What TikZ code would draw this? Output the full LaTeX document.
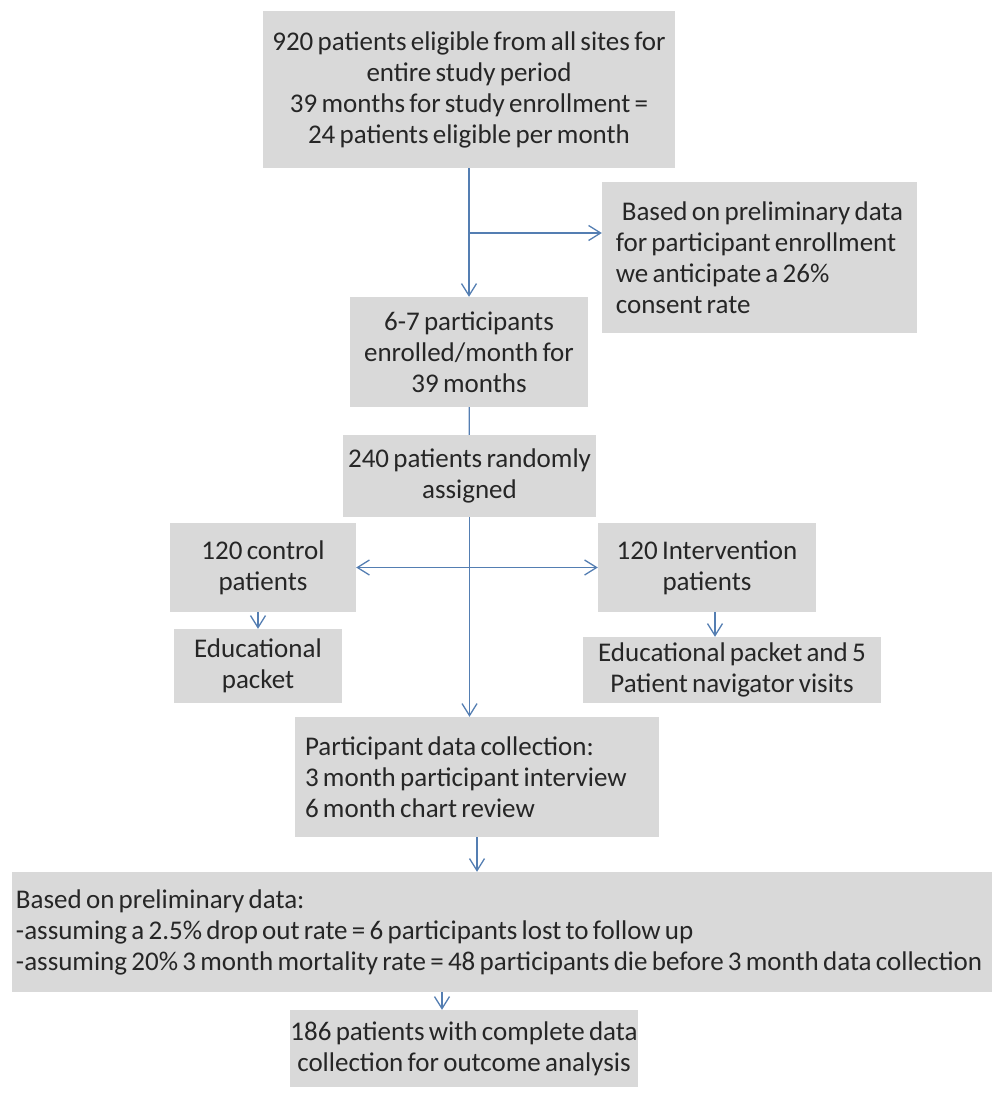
\documentclass[tikz,border=0pt]{standalone}
\usepackage{fontspec}
\setmainfont{Carlito}[WordSpace=0.7]
\usetikzlibrary{positioning,arrows.meta,calc}
\definecolor{boxgray}{RGB}{217,217,217}
\definecolor{linkblue}{RGB}{84,126,178}

\begin{document}
\begin{tikzpicture}[x=1pt,y=-1pt,
  every node/.style={font=\fontsize{27}{31}\selectfont,text=black!85},
  box/.style={fill=boxgray,align=center,inner sep=0pt},
  arrow/.style={-{Straight Barb[length=12pt,width=15pt]},draw=linkblue,line width=1.3pt},
  link/.style={draw=linkblue,line width=1.3pt}
]
  \useasboundingbox (0,0) rectangle (1001,1094);
  \node[box,minimum width=412pt,minimum height=157pt] (elig) at (469,89.5)
    {920 patients eligible from all sites for\\ entire study period\\ 39 months for study enrollment =\\ 24 patients eligible per month};
  \node[box,align=left,minimum width=315pt,minimum height=151pt] (consent) at (759.5,257.5)
    {\hspace{6pt}Based on preliminary data\\ for participant enrollment\\ we anticipate a 26\%\\ consent rate};
  \node[box,minimum width=238pt,minimum height=110pt] (enrol) at (469,352)
    {6-7 participants\\ enrolled/month for\\ 39 months};
  \node[box,minimum width=253pt,minimum height=82pt] (rand) at (469.5,476)
    {240 patients randomly\\ assigned};
  \node[box,minimum width=186pt,minimum height=89pt] (ctrl) at (263,567.5)
    {120 control\\ patients};
  \node[box,minimum width=218pt,minimum height=89pt] (intv) at (707,567.5)
    {120 Intervention\\ patients};
  \node[box,minimum width=168pt,minimum height=74pt] (edu) at (258,666)
    {Educational\\ packet};
  \node[box,minimum width=298pt,minimum height=66pt] (edupn) at (732,670)
    {Educational packet and 5\\ Patient navigator visits};
  \node[box,align=flush left,text width=344pt,inner xsep=10pt,minimum height=120pt] (collect) at (477,777)
    {Participant data collection:\\ 3 month\ participant interview\\ 6 month\ chart review};
  \node[box,align=flush left,text width=972pt,inner xsep=4pt,minimum height=120pt] (prelim) at (502,932)
    {Based on preliminary data:\\ -assuming a 2.5\% drop out\ rate = 6 participants lost to follow up\\ -assuming 20\% 3 month\ mortality rate = 48 participants die before 3 month\ data collection};
  \node[box,minimum width=332pt,minimum height=77pt] (final) at (464,1048.5)
    {186 patients with complete data\\ collection for outcome analysis};
  \coordinate (br) at (469,233);
  \draw[arrow] (elig) -- (enrol);
  \draw[arrow] (br) -- (br -| consent.west);
  \draw[link] (enrol) -- (rand);
  \draw[arrow] (rand.south) -- (rand.south |- collect.north);
  \draw[arrow] (rand.south |- ctrl.east) -- (ctrl.east);
  \draw[arrow] (rand.south |- intv.west) -- (intv.west);
  \draw[arrow] (ctrl.south -| edu.north) -- (edu.north);
  \draw[arrow] ([xshift=8pt]intv.south) -- ([xshift=8pt]intv.south |- edupn.north);
  \draw[arrow] (collect.south) -- (collect.south |- prelim.north);
  \draw[arrow] ([xshift=-22pt]final.north |- prelim.south) -- ([xshift=-22pt]final.north);
\end{tikzpicture}
\end{document}
